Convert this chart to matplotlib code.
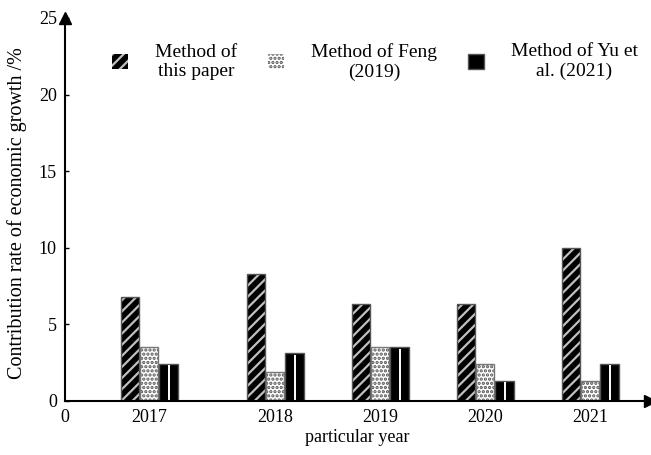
import matplotlib
matplotlib.use("Agg")
import matplotlib.pyplot as plt
import numpy as np

years = ["2017", "2018", "2019", "2020", "2021"]
this_paper = [6.8, 8.3, 6.3, 6.3, 10.0]
feng = [3.5, 1.9, 3.5, 2.4, 1.3]
yu = [2.4, 3.1, 3.5, 1.3, 2.4]
labels = ["Method of\nthis paper", "Method of Feng\n(2019)", "Method of Yu et\nal. (2021)"]

plt.rcParams["font.family"] = ["Liberation Serif", "DejaVu Serif"]
plt.rcParams["hatch.linewidth"] = 1.6

# group centres (the first group sits a bit closer to the origin in the original)
pos = np.array([0.8, 2.0, 3.0, 4.0, 5.0])
w = 0.176
step = 0.183

fig = plt.figure(figsize=(6.51, 4.55), dpi=100)
ax = fig.add_axes([0.1, 0.1187, 0.8986, 0.842])

b1 = ax.bar(pos - step, this_paper, w, color="black", edgecolor="#c0c0c0",
            hatch="///", linewidth=0, label=labels[0])
ax.bar(pos - step, this_paper, w, fill=False, edgecolor="#555555", linewidth=1)

b2 = ax.bar(pos, feng, w, color="white", edgecolor="#555555",
            hatch="....", linewidth=0, label=labels[1])
ax.bar(pos, feng, w, fill=False, edgecolor="#777777", linewidth=1)

b3 = ax.bar(pos + step, yu, w, color="black", edgecolor="#555555",
            linewidth=1, label=labels[2])
ax.vlines(pos + step + 0.005, 0, np.array(yu) - 0.08, color="white", linewidth=1.4)

ax.set_xlim(0, 5.57)
ax.set_ylim(0, 25)
ax.set_yticks([0, 5, 10, 15, 20, 25])
ax.set_xticks(np.concatenate([[0], pos]))
ax.set_xticklabels(["0"] + years)
ax.tick_params(axis="y", direction="in", length=3, width=1, labelsize=13, pad=6)
ax.tick_params(axis="x", length=0, labelsize=13, pad=6)

for s in ["top", "right"]:
    ax.spines[s].set_visible(False)
for s in ["left", "bottom"]:
    ax.spines[s].set_linewidth(1.5)
ax.plot(1, 0, ">k", ms=8, transform=ax.transAxes, clip_on=False)
ax.plot(0, 1, "^k", ms=8, transform=ax.transAxes, clip_on=False)

ax.set_xlabel("particular year", fontsize=13, labelpad=2)
ax.set_ylabel("Contribution rate of economic growth /%", fontsize=14.5)
ax.yaxis.set_label_coords(-0.065, 0.49)

leg = ax.legend(handles=[b1, b2, b3], ncol=3, loc="upper center",
                bbox_to_anchor=(0.53, 0.98), frameon=False, fontsize=14,
                handlelength=0.8, handleheight=0.8, handletextpad=1.4,
                columnspacing=1.6)
for t in leg.get_texts():
    t.set_multialignment("center")

fig.savefig("out.png", dpi=100)
